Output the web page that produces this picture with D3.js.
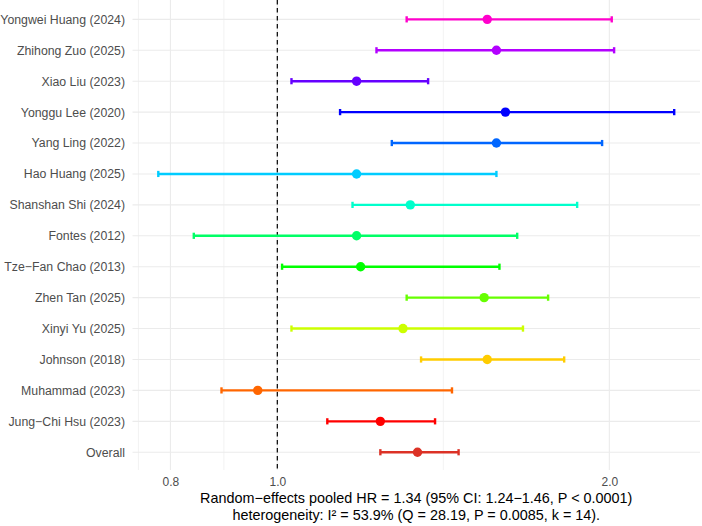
<!DOCTYPE html>
<html>
<head>
<meta charset="utf-8">
<script src="https://cdn.jsdelivr.net/npm/d3@7"></script>
<style>
  body { margin: 0; background: #fff; }
  text { font-family: "Liberation Sans", Arial, Helvetica, sans-serif; }
</style>
</head>
<body>
<svg id="forest" width="702" height="526"></svg>
<script>
// studies top -> bottom, hazard ratios with 95% CI
const studies = ["Yongwei Huang (2024)", "Zhihong Zuo (2025)", "Xiao Liu (2023)", "Yonggu Lee (2020)",
  "Yang Ling (2022)", "Hao Huang (2025)", "Shanshan Shi (2024)", "Fontes (2012)", "Tze\u2212Fan Chao (2013)",
  "Zhen Tan (2025)", "Xinyi Yu (2025)", "Johnson (2018)", "Muhammad (2023)", "Jung\u2212Chi Hsu (2023)", "Overall"];
const hr    = [1.55, 1.58, 1.18, 1.61, 1.58, 1.18, 1.32, 1.18, 1.19, 1.54, 1.30, 1.55, 0.96, 1.24, 1.34];
const lower = [1.31, 1.23, 1.03, 1.14, 1.27, 0.78, 1.17, 0.84, 1.01, 1.31, 1.03, 1.35, 0.89, 1.11, 1.24];
const upper = [2.01, 2.02, 1.37, 2.29, 1.97, 1.58, 1.87, 1.65, 1.59, 1.76, 1.67, 1.82, 1.44, 1.39, 1.46];
const colors = ["#FF00CC", "#B300FF", "#6600FF", "#0000FF", "#0066FF", "#00CCFF", "#00FFCC",
  "#00FF66", "#00FF00", "#66FF00", "#CCFF00", "#FFCC00", "#FF6600", "#FF0000", "#DC3226"];
const xBreaks = [0.8, 1.0, 2.0];
const xMinor = [Math.sqrt(0.7 * 0.8), Math.sqrt(0.8 * 1.0), Math.sqrt(1.0 * 2.0)];
const captionLines = [
  "Random\u2212effects pooled HR = 1.34 (95% CI: 1.24\u22121.46, P < 0.0001)",
  "heterogeneity: I\u00b2 = 53.9% (Q = 28.19, P = 0.0085, k = 14)."
];

const svg = d3.select("#forest");
const panel = { left: 132.5, right: 700, top: 0, bottom: 470 };

const data = studies.map((s, i) => ({ study: s, hr: hr[i], lo: lower[i], hi: upper[i], color: colors[i] }));

// log x with 5% expansion like ggplot
const lmin = Math.log(d3.min(lower)), lmax = Math.log(d3.max(upper));
const pad = (lmax - lmin) * 0.05;
const x = d3.scaleLog()
  .domain([Math.exp(lmin - pad), Math.exp(lmax + pad)])
  .range([panel.left, panel.right]);

const y = d3.scalePoint()
  .domain(studies)
  .range([panel.top + 0.8, panel.bottom + 0.8])
  .padding(0.6);

const grid = svg.append("g");
grid.selectAll(".minor").data(xMinor).join("line")
  .attr("x1", d => x(d)).attr("x2", d => x(d))
  .attr("y1", panel.top).attr("y2", panel.bottom)
  .attr("stroke", "#EBEBEB").attr("stroke-width", 0.6);
grid.selectAll(".majx").data(xBreaks).join("line")
  .attr("x1", d => x(d)).attr("x2", d => x(d))
  .attr("y1", panel.top).attr("y2", panel.bottom)
  .attr("stroke", "#EBEBEB").attr("stroke-width", 1.1);
grid.selectAll(".majy").data(studies).join("line")
  .attr("x1", panel.left).attr("x2", panel.right)
  .attr("y1", d => y(d)).attr("y2", d => y(d))
  .attr("stroke", "#EBEBEB").attr("stroke-width", 1.1);

// reference line at HR = 1
svg.append("line")
  .attr("x1", x(1)).attr("x2", x(1))
  .attr("y1", panel.top).attr("y2", panel.bottom)
  .attr("stroke", "#000").attr("stroke-width", 1.2)
  .attr("stroke-dasharray", "4.5,3.5");

// axes (text only, like theme_minimal)
const xAxis = svg.append("g")
  .attr("transform", `translate(0,${panel.bottom})`)
  .call(d3.axisBottom(x).tickValues(xBreaks).tickFormat(d3.format(".1f")).tickSize(0).tickPadding(7.5));
xAxis.select(".domain").remove();
xAxis.selectAll("text").attr("font-size", 12).attr("fill", "#4D4D4D").attr("font-family", null);

const yAxis = svg.append("g")
  .attr("transform", `translate(${panel.left},0)`)
  .call(d3.axisLeft(y).tickSize(0).tickPadding(7.5));
yAxis.select(".domain").remove();
yAxis.selectAll("text").attr("font-size", 12.3).attr("fill", "#4D4D4D").attr("font-family", null);

// error bars and points
const rows = svg.append("g").selectAll("g").data(data).join("g");
rows.append("line")
  .attr("x1", d => x(d.lo)).attr("x2", d => x(d.hi))
  .attr("y1", d => y(d.study)).attr("y2", d => y(d.study))
  .attr("stroke", d => d.color).attr("stroke-width", 2.4);
rows.selectAll(".cap").data(d => [d.lo, d.hi].map(v => ({ v, d }))).join("line")
  .attr("x1", e => x(e.v)).attr("x2", e => x(e.v))
  .attr("y1", e => y(e.d.study) - 3.1).attr("y2", e => y(e.d.study) + 3.1)
  .attr("stroke", e => e.d.color).attr("stroke-width", 2.4);
rows.append("circle")
  .attr("cx", d => x(d.hr)).attr("cy", d => y(d.study))
  .attr("r", 4.7)
  .attr("fill", d => d.color);

// caption under the axis, centred on the panel
svg.append("g").selectAll("text").data(captionLines).join("text")
  .attr("x", (panel.left + panel.right) / 2)
  .attr("y", (d, i) => 503 + i * 16.6)
  .attr("text-anchor", "middle")
  .attr("font-size", 14.4)
  .attr("fill", "#000")
  .text(d => d);
</script>
</body>
</html>
